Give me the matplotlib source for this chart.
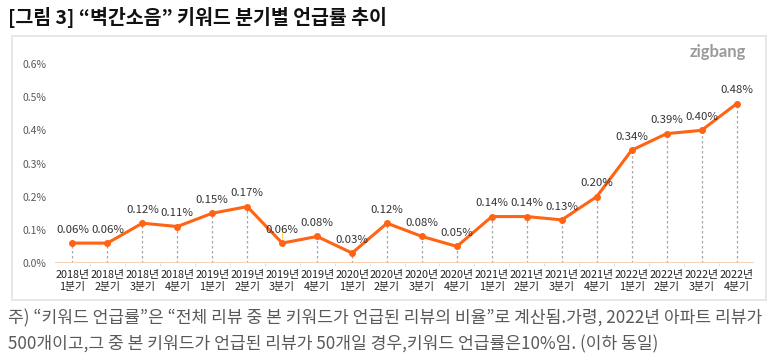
import matplotlib.pyplot as plt
from matplotlib.patches import Rectangle

plt.rcParams['font.family'] = ['Noto Sans CJK KR', 'DejaVu Sans']

years = ['2018', '2018', '2018', '2018', '2019', '2019', '2019', '2019', '2020', '2020',
         '2020', '2020', '2021', '2021', '2021', '2021', '2022', '2022', '2022', '2022']
quarters = [1, 2, 3, 4] * 5
rates = [0.06, 0.06, 0.12, 0.11, 0.15, 0.17, 0.06, 0.08, 0.03, 0.12,
         0.08, 0.05, 0.14, 0.14, 0.13, 0.20, 0.34, 0.39, 0.40, 0.48]
labels = [f'{y}년\n{q}분기' for y, q in zip(years, quarters)]

title = '[그림 3] “벽간소음” 키워드 분기별 언급률 추이'
note1 = '주) “키워드 언급률”은 “전체 리뷰 중 본 키워드가 언급된 리뷰의 비율”로 계산됨.가령, 2022년 아파트 리뷰가'
note2 = '500개이고,그 중 본 키워드가 언급된 리뷰가 50개일 경우,키워드 언급률은10%임. (이하 동일)'

fig = plt.figure(figsize=(7.78, 3.64), dpi=100)

# frame around the chart
fig.patches.append(Rectangle((12 / 778, 1 - 300 / 364), 754 / 778, 264 / 364,
                             transform=fig.transFigure, fill=False,
                             edgecolor='#e3e3e3', linewidth=1.2))

ax = fig.add_axes([55 / 778, 1 - 263 / 364, 699 / 778, 199 / 364])
x = list(range(len(rates)))

for i, v in enumerate(rates):
    if i == 6:
        ax.plot([i, i], [v + 0.004, v + 0.045], color='#ffd966', lw=0.8, zorder=1)
    else:
        ax.plot([i, i], [0, v], color='#a6a6a6', lw=0.9, ls=(0, (2, 2)), zorder=1)

ax.axhline(0, color='#f8cbad', lw=1.3, zorder=1)
ax.plot(x, rates, color='#ff6314', lw=2.2, marker='o', markersize=4, zorder=3)

for i, v in enumerate(rates):
    ax.annotate(f'{v:.2f}%', (i, v), xytext=(0, 6), textcoords='offset points',
                ha='center', va='bottom', fontsize=8.2, color='#333333')

ax.set_xlim(-0.5, len(rates) - 0.5)
ax.set_ylim(0, 0.6)
ax.set_yticks([0, 0.1, 0.2, 0.3, 0.4, 0.5, 0.6])
ax.set_yticklabels([f'{t:.1f}%' for t in ax.get_yticks()], fontsize=7.5, color='#595959')
ax.set_xticks(x)
ax.set_xticklabels(labels, fontsize=7.8, color='#222222', linespacing=1.25)
ax.tick_params(axis='x', length=0, pad=5)
ax.tick_params(axis='y', length=0, pad=6)
ax.set_xticks([i + 0.5 for i in x[:-1]], minor=True)
ax.tick_params(axis='x', which='minor', length=2, color='#d9d9d9')
for s in ax.spines.values():
    s.set_visible(False)

fig.text(8 / 778, 1 - 17 / 364, title, fontsize=14, fontweight='bold',
         color='#111111', va='center', ha='left')
fig.text(746 / 778, 1 - 52 / 364, 'zigbang', fontsize=12, fontweight='bold',
         color='#9a9a9a', va='center', ha='right', family=['Lato', 'DejaVu Sans'])
fig.text(8 / 778, 1 - 318 / 364, note1, fontsize=12.3, color='#595959', va='center', ha='left')
fig.text(8 / 778, 1 - 344 / 364, note2, fontsize=12.3, color='#595959', va='center', ha='left')

fig.savefig('out.png', dpi=100)
